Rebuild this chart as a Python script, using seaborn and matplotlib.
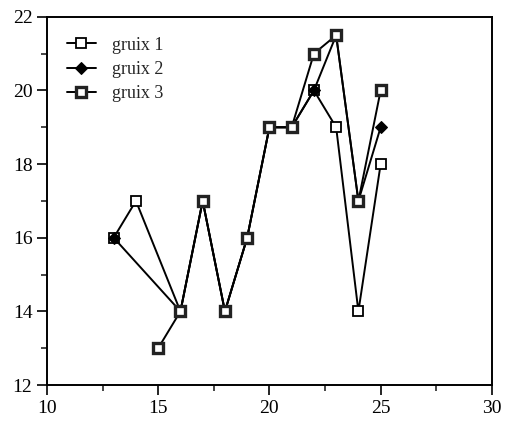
import numpy as np
import pandas as pd
import matplotlib.pyplot as plt
import seaborn as sns

sns.set_style("ticks")
plt.rcParams['font.family'] = ['Liberation Serif', 'DejaVu Serif']

# data
x1 = [13, 14, 16, 17, 18, 19, 20, 21, 22, 23, 24, 25]
y1 = [16, 17, 14, 17, 14, 16, 19, 19, 20, 19, 14, 18]
x2 = [13, 16, 17, 18, 19, 20, 21, 22, 23, 24, 25]
y2 = [16, 14, 17, 14, 16, 19, 19, 20, 21.5, 17, 19]
x3 = [15, 16, 17, 18, 19, 20, 21, 22, 23, 24, 25]
y3 = [13, 14, 17, 14, 16, 19, 19, 21, 21.5, 17, 20]
labels = ["gruix 1", "gruix 2", "gruix 3"]

fig, ax = plt.subplots(figsize=(5.05, 4.21), dpi=100)
fig.subplots_adjust(left=0.093, right=0.974, bottom=0.0855, top=0.96)

sns.lineplot(x=x1, y=y1, ax=ax, color='black', lw=1.4, sort=False, estimator=None,
             marker='s', markersize=7.5, markerfacecolor='white', markeredgecolor='black',
             markeredgewidth=1.3, label=labels[0])
sns.lineplot(x=x2, y=y2, ax=ax, color='black', lw=1.4, sort=False, estimator=None,
             marker='D', markersize=6, markerfacecolor='black', markeredgecolor='black',
             label=labels[1])
sns.lineplot(x=x3, y=y3, ax=ax, color='black', lw=1.4, sort=False, estimator=None,
             marker='s', markersize=7, markerfacecolor='white', markeredgecolor='#222222',
             markeredgewidth=2.4, label=labels[2])

ax.set_xlim(10, 30)
ax.set_ylim(12, 22)
ax.set_xticks([10, 15, 20, 25, 30])
ax.set_yticks([12, 14, 16, 18, 20, 22])
ax.set_xticks(np.arange(12.5, 30, 5), minor=True)
ax.set_yticks(np.arange(13, 22, 2), minor=True)
ax.tick_params(axis='both', which='major', direction='out', length=7, width=1.2,
               labelsize=14, colors='black')
ax.tick_params(axis='both', which='minor', direction='out', length=4, width=1.2)
for s in ax.spines.values():
    s.set_linewidth(1.4)
    s.set_color('black')
    s.set_visible(True)

ax.legend(loc='upper left', frameon=False, fontsize=13, handlelength=1.6,
          borderaxespad=0.7, labelspacing=0.4, handletextpad=0.9)

plt.savefig("out.png", dpi=100)
